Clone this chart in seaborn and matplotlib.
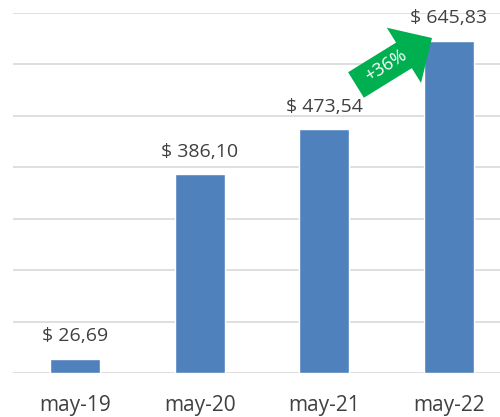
import matplotlib
matplotlib.use("Agg")
import matplotlib.pyplot as plt
from matplotlib.patches import FancyArrow
import pandas as pd
import seaborn as sns

months = ["may-19", "may-20", "may-21", "may-22"]
values = [26.69, 386.10, 473.54, 645.83]
value_labels = ["$ 26,69", "$ 386,10", "$ 473,54", "$ 645,83"]
growth_label = "+36%"

BAR = "#4F81BD"
GRID = "#D9D9D9"
TEXT = "#404040"
GREEN = "#00B050"

sns.set_style("white")
plt.rcParams["font.family"] = ["Open Sans", "DejaVu Sans"]

df = pd.DataFrame({"month": months, "value": values})

fig = plt.figure(figsize=(5, 4.17), dpi=100)
ax = fig.add_axes([13 / 500, 44 / 417, 1 - 13 / 500, (373 - 13) / 417])

sns.barplot(data=df, x="month", y="value", color=BAR, saturation=1, width=0.4, ax=ax)

ax.set_xlim(-0.5, 3.41)
ax.set_ylim(0, 700)
ax.set_yticks(range(0, 701, 100))
ax.yaxis.grid(True, color=GRID, linewidth=1.2)
ax.set_axisbelow(True)
ax.tick_params(axis="y", left=False, labelleft=False)
ax.tick_params(axis="x", bottom=False, colors=TEXT, labelsize=15, pad=12)
ax.set_xlabel("")
ax.set_ylabel("")
for s in ax.spines.values():
    s.set_visible(False)

for i, (v, lab) in enumerate(zip(values, value_labels)):
    ax.annotate(lab, (i, v), xytext=(0, 10), textcoords="offset points",
                ha="center", va="bottom", fontsize=14, color=TEXT,
                annotation_clip=False)

# growth arrow, placed in figure inches
H = 4.17
arrow = FancyArrow(3.56, H - 0.85, 0.76, 0.47, width=0.30, head_width=0.65,
                   head_length=0.33, length_includes_head=True,
                   color=GREEN, linewidth=0, transform=fig.dpi_scale_trans)
fig.add_artist(arrow)
fig.text(3.86 / 5, (H - 0.66) / H, growth_label, color="white", fontsize=13,
         rotation=32, ha="center", va="center")

fig.savefig("out.png", dpi=100)
